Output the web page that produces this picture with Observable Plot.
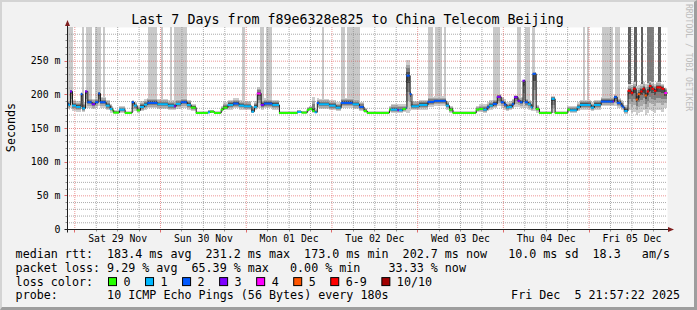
<!DOCTYPE html>
<html><head><meta charset="utf-8">
<script src="https://cdn.jsdelivr.net/npm/d3@7"></script>
<script src="https://cdn.jsdelivr.net/npm/@observablehq/plot@0.6"></script>
<style>
html,body{margin:0;padding:0;background:#f2f2f2;}
#wrap{position:relative;width:697px;height:310px;overflow:hidden;background:#f2f2f2;}
#border{position:absolute;left:0;top:0;width:697px;height:310px;box-sizing:border-box;border-style:solid;border-width:2px 3px 3px 2px;border-color:#d4d4d4 #9e9e9e #9e9e9e #d4d4d4;pointer-events:none;}
svg text{font-family:"DejaVu Sans Mono",monospace;}
</style></head>
<body><div id="wrap"><div id="border"></div></div>
<script>
const title = "Last 7 Days from f89e6328e825 to China Telecom Beijing";
const yLabel = "Seconds";
const watermark = "RRDTOOL / TOBI OETIKER";
const startTime = Date.UTC(2025, 10, 28, 21, 57, 22);
const endTime = Date.UTC(2025, 11, 5, 21, 57, 22);
const hourZero = Date.UTC(2025, 10, 29); // segment hours are counted from here
const dayLabels = ["Sat 29 Nov", "Sun 30 Nov", "Mon 01 Dec", "Tue 02 Dec", "Wed 03 Dec", "Thu 04 Dec", "Fri 05 Dec"];
const yTicks = [0, 50, 100, 150, 200, 250];
const yTickLabels = ["0", "50 m", "100 m", "150 m", "200 m", "250 m"];

// median rtt segments: start hour, median (ms), lost pings (of 10), smoke min / max (ms)
const segHour = [
  -2.04, -1.6, -1.2, -0.64, 0.5, 1.78, 2.25, 3.0, 3.65, 4.86,
  5.8, 6.73, 7.2, 8.78, 9.9, 10.65, 10.9, 12.5, 14.1, 16.06,
  16.72, 17.47, 18.4, 19.5, 20.45, 23.25, 26.2, 27.9, 28.4, 29.8,
  31.5, 32.6, 34.0, 37.4, 38.0, 39.1, 41.0, 41.7, 42.9, 44.5,
  46.0, 47.5, 49.6, 50.3, 51.1, 52.2, 53.1, 55.45, 57.3, 62.45,
  63.6, 65.1, 65.7, 66.65, 67.3, 67.9, 68.5, 71.3, 73.2, 74.6,
  77.9, 79.7, 81.0, 81.9, 88.1, 88.6, 90.5, 90.9, 91.9, 92.8,
  93.0, 93.9, 94.4, 96.5, 98.9, 100.7, 104.0, 104.9, 105.9, 112.4,
  113.3, 114.5, 115.5, 116.1, 117.2, 118.3, 119.4, 120.3, 121.0, 121.7,
  122.5, 123.1, 124.1, 124.8, 125.5, 126.1, 127.0, 127.8, 128.3, 129.2,
  130.1, 133.6, 134.5, 138.06, 138.8, 140.7, 141.6, 144.6, 145.5, 147.4,
  150.8, 151.1, 151.9, 153.0, 153.5, 154.0, 154.9, 155.8, 156.5, 157.2,
  157.8, 158.5, 159.1, 159.7, 160.3, 160.9, 161.6, 162.3, 163.0, 164.4,
  165.2
];
const segMedian = [
  186, 185, 205, 184, 182, 201, 180, 205, 189, 186,
  189, 202, 189, 184, 179, 177, 173.5, 178, 173, 189,
  184, 177, 182, 185.5, 188, 186, 184, 183, 186.5, 189,
  185, 181, 173, 174, 175, 173, 178, 181, 185, 187,
  184, 183, 175, 182, 202, 185, 187, 185, 173, 174.5,
  173.5, 177.5, 179, 176, 174, 188, 186, 184, 181, 188,
  186, 182, 176, 173, 178, 178, 177, 177, 179, 181,
  228.5, 201, 183, 185, 189.5, 191, 184, 178, 173, 178,
  179, 178, 181.5, 184, 186.5, 197, 189, 185.5, 181.5, 182,
  186, 196.5, 191, 189, 221, 189, 186, 181.5, 231.2, 179,
  173, 194, 173, 178, 177, 181.5, 185, 181, 185, 190,
  190, 196.5, 188, 184, 181.5, 176, 206, 203, 209, 193,
  201, 205, 209, 199, 205, 213, 209, 206, 211, 209,
  202.7
];
const segLoss = [
  2, 1, 3, 1, 1, 2, 1, 3, 2, 3,
  2, 2, 2, 1, 1, 0, 0, 1, 0, 2,
  1, 0, 1, 1, 2, 1, 1, 3, 1, 2,
  1, 0, 0, 1, 0, 0, 0, 0, 1, 2,
  1, 1, 1, 1, 4, 3, 2, 1, 0, 1,
  0, 0, 0, 0, 1, 2, 1, 1, 1, 2,
  1, 2, 0, 0, 0, 1, 3, 1, 0, 1,
  2, 2, 1, 1, 2, 2, 1, 0, 0, 0,
  0, 1, 2, 1, 2, 3, 2, 2, 1, 1,
  2, 3, 3, 2, 3, 2, 1, 1, 2, 0,
  0, 1, 0, 0, 1, 1, 1, 1, 1, 2,
  3, 2, 2, 2, 2, 1, 6, 6, 6, 5,
  5, 6, 6, 5, 6, 6, 6, 6, 6, 6,
  4
];
const segLow = [
  178, 177, 180, 175, 174, 178, 174, 180, 180, 178,
  180, 182, 180, 176, 173, 172, 172, 173, 172, 174,
  175, 173, 175, 177, 179, 178, 176, 176, 178, 180,
  177, 175, 172, 172, 172, 172, 174, 176, 177, 179,
  177, 176, 172, 176, 180, 177, 179, 177, 172, 172,
  172, 174, 175, 172, 172, 179, 178, 176, 175, 180,
  178, 175, 172, 172, 174, 172, 172, 172, 174, 174,
  173, 175, 176, 177, 181, 183, 177, 173, 172, 174,
  174, 173, 175, 177, 179, 182, 180, 177, 175, 176,
  178, 181, 181, 180, 180, 179, 177, 175, 175, 173,
  172, 173, 172, 174, 173, 175, 177, 175, 177, 182,
  182, 183, 180, 177, 174, 171, 176, 172, 174, 170,
  172, 174, 176, 170, 172, 176, 175, 173, 176, 174,
  180
];
const segHigh = [
  192, 191, 207, 192, 190, 203, 188, 206, 195, 193,
  195, 204, 196, 192, 186, 182, 176, 182, 175, 191,
  188, 183, 190, 193, 195, 193, 191, 190, 193, 195,
  192, 186, 175, 177, 177, 175, 183, 188, 192, 194,
  191, 190, 183, 190, 211, 192, 194, 192, 175, 177,
  175, 181, 183, 196, 178, 194, 193, 191, 188, 195,
  193, 189, 180, 175, 182, 186, 185, 185, 185, 188,
  251, 205, 190, 192, 196, 197, 190, 183, 175, 182,
  185, 185, 188, 191, 194, 200, 196, 193, 188, 190,
  193, 199, 197, 196, 222, 195, 192, 188, 233, 184,
  175, 197, 175, 182, 183, 188, 192, 188, 192, 196,
  196, 200, 195, 191, 189, 184, 215, 214, 218, 212,
  214, 216, 218, 215, 217, 220, 218, 216, 219, 216,
  210
];

// lost-ping columns reaching the top of the graph (hours)
const barFrom = [-2.04, 2.1, 3.3, 5.8, 7.9, 20.6, 24.2, 26.8, 27.9, 47.0, 52.0, 53.6, 69.3, 74.7, 76.4,
  98.9, 100.9, 103.5, 117.2, 123.9, 126.2, 128.1, 142.5, 143.5, 147.7, 151.3,
  155.05, 156.7, 158.6, 160.3, 163.5];
const barTo = [-0.3, 2.7, 5.0, 7.4, 8.5, 23.1, 24.9, 27.4, 31.5, 47.8, 53.1, 55.4, 69.9, 75.8, 80.0,
  100.5, 103.0, 104.1, 119.2, 125.1, 127.6, 128.9, 143.1, 144.1, 150.9, 152.8,
  155.8, 157.5, 159.3, 162.3, 164.2];
const barShade = ["light","light","light","light","light","light","light","light","light","light","light","light","light","light","light",
  "light","light","light","light","light","light","light","light","light","light","light",
  "dark","dark","dark","mid","dark"];

const lossLabels = ["0", "1", "2", "3", "4", "5", "6-9", "10/10"];
const lossColors = ["#26ff00", "#00b8ff", "#0059ff", "#7e00ff", "#ff00ff", "#ff5500", "#ff0000", "#a10000"];

const statLines = [
  "median rtt:  183.4 ms avg  231.2 ms max  173.0 ms min  202.7 ms now   10.0 ms sd  18.3   am/s",
  "packet loss: 9.29 % avg  65.39 % max   0.00 % min    33.33 % now"
];
const lossColorLabel = "loss color:";
const probeLabel = "probe:";
const probeText = "10 ICMP Echo Pings (56 Bytes) every 180s";
const stampText = "Fri Dec  5 21:57:22 2025";

// ---------- build ----------
const H = h => new Date(Math.max(startTime, hourZero + h * 3600e3));
const lossColor = l => lossColors[l >= 10 ? 7 : l >= 6 ? 6 : l];
const segs = segHour.map((h, i) => ({
  x1: H(h),
  x2: i + 1 < segHour.length ? H(segHour[i + 1]) : new Date(endTime),
  med: segMedian[i], loss: segLoss[i], lo: segLow[i], hi: segHigh[i]
}));
const linePts = segs.map(s => ({t: s.x1, v: s.med})).concat([{t: new Date(endTime), v: segs[segs.length - 1].med}]);
const shadeFill = {light: "#c9c9c9", dark: "#5e5e5e", mid: "#7c7c7c"};
const shadeBase = {light: 190, dark: 180, mid: 182};
const bars = barFrom.map((f, i) => ({x1: H(f), x2: H(barTo[i]), shade: barShade[i]}));

const smokeLayers = [[1, "#cdcdcd"], [0.7, "#a9a9a9"], [0.45, "#7f7f7f"], [0.2, "#4e4e4e"]];

const start = new Date(startTime), end = new Date(endTime);
const midnights = d3.utcDay.range(start, end);
const sixH = d3.utcHour.every(6).range(start, end).filter(d => d.getUTCHours() !== 0);
const dayNoons = midnights.map(d => d3.utcHour.offset(d, 12));
const minorY = d3.range(10, 300, 10).filter(v => v % 50 !== 0);
const majorY = yTicks.filter(v => v > 0);
const gridMinor = {stroke: "#8f8f8f", strokeOpacity: 0.75, strokeDasharray: "1,1"};
const gridMajor = {stroke: "#de4f4f", strokeOpacity: 0.6, strokeDasharray: "1,1"};

const marks = [
  Plot.frame({fill: "white", stroke: "none"}),
  Plot.rect(bars, {x1: "x1", x2: "x2", y1: d => shadeBase[d.shade], y2: 300, fill: d => shadeFill[d.shade], shapeRendering: "crispEdges"})
];
for (const [f, c] of smokeLayers) {
  marks.push(Plot.rect(segs, {
    x1: "x1", x2: "x2",
    y1: d => d.med - (d.med - d.lo) * f,
    y2: d => d.med + (d.hi - d.med) * f,
    fill: c, shapeRendering: "crispEdges"
  }));
}
marks.push(
  Plot.ruleY(minorY, gridMinor),
  Plot.ruleY(majorY, gridMajor),
  Plot.ruleX(sixH, gridMinor),
  Plot.ruleX(midnights, gridMajor),
  Plot.line(linePts, {x: "t", y: "v", curve: "step-after", stroke: "#202020", strokeWidth: 1}),
  Plot.ruleY(segs, {y: "med", x1: "x1", x2: "x2", stroke: d => lossColor(d.loss), strokeWidth: 2}),
  Plot.axisX({ticks: dayNoons, tickFormat: d => dayLabels[dayNoons.findIndex(n => +n === +d)], tickSize: 0, tickPadding: 5.5, fontSize: 9.8, fill: "#000"}),
  Plot.axisY({ticks: yTicks, tickFormat: d => yTickLabels[yTicks.indexOf(d)], tickSize: 0, tickPadding: 7, fontSize: 9.9, fill: "#000", label: null})
);

const chart = Plot.plot({
  width: 697, height: 310,
  marginLeft: 67, marginRight: 30, marginTop: 27, marginBottom: 81,
  x: {type: "utc", domain: [start, end], range: [67, 667], label: null},
  y: {domain: [0, 300], range: [229, 27], label: null},
  color: {type: "identity"},
  style: {background: "transparent", fontFamily: "DejaVu Sans Mono", color: "#000", overflow: "visible"},
  marks
});
chart.style.position = "absolute";
chart.style.left = "0px";
chart.style.top = "0px";
document.getElementById("wrap").insertBefore(chart, document.getElementById("border"));

// ---------- decorations drawn from the plot's scales ----------
const xS = chart.scale("x"), yS = chart.scale("y");
const svg = d3.select(chart);
const g = svg.append("g");
const ax = Math.round(xS.apply(start)) + 0.5;
const ay = Math.round(yS.apply(0)) + 0.5;
const axR = Math.round(xS.apply(end));
const axT = Math.round(yS.apply(300));

// tick marks outside the axes
minorY.forEach(v => g.append("line").attr("x1", ax - 2).attr("x2", ax).attr("y1", Math.round(yS.apply(v)) + 0.5).attr("y2", Math.round(yS.apply(v)) + 0.5).attr("stroke", "#8f8f8f"));
majorY.forEach(v => g.append("line").attr("x1", ax - 3).attr("x2", ax).attr("y1", Math.round(yS.apply(v)) + 0.5).attr("y2", Math.round(yS.apply(v)) + 0.5).attr("stroke", "#e06a6a"));
sixH.forEach(d => g.append("line").attr("x1", Math.round(xS.apply(d)) + 0.5).attr("x2", Math.round(xS.apply(d)) + 0.5).attr("y1", ay).attr("y2", ay + 2).attr("stroke", "#8f8f8f"));
midnights.forEach(d => g.append("line").attr("x1", Math.round(xS.apply(d)) + 0.5).attr("x2", Math.round(xS.apply(d)) + 0.5).attr("y1", ay).attr("y2", ay + 3).attr("stroke", "#e06a6a"));

// axes and arrows
g.append("line").attr("x1", ax - 3).attr("x2", axR + 1).attr("y1", ay).attr("y2", ay).attr("stroke", "#1f1f1f");
g.append("line").attr("x1", ax).attr("x2", ax).attr("y1", ay + 3).attr("y2", axT - 1).attr("stroke", "#1f1f1f");
g.append("path").attr("d", `M${ax - 2.5},${axT - 1}L${ax + 2.5},${axT - 1}L${ax},${axT - 7}Z`).attr("fill", "#801f1f");
g.append("path").attr("d", `M${axR + 1},${ay - 2.5}L${axR + 1},${ay + 2.5}L${axR + 7},${ay}Z`).attr("fill", "#801f1f");

// title, axis label, watermark
g.append("text").attr("x", 347.5).attr("y", 24).attr("text-anchor", "middle").attr("font-size", 13.3).attr("fill", "#000").text(title);
g.append("text").attr("transform", "translate(15,127.5) rotate(-90)").attr("text-anchor", "middle").attr("font-size", 11.7).attr("fill", "#000").text(yLabel);
g.append("text").attr("transform", "translate(685.5,4) rotate(90)").attr("text-anchor", "start").attr("font-size", 8.1).attr("fill", "#bdbdbd").text(watermark);

// legend block
const lx = 15.6, cw = 7.04, rows = [258, 271.8, 285.6, 299.4];
const T = (x, y, s, anchor) => g.append("text").attr("x", x).attr("y", y).attr("font-size", 11.7).attr("fill", "#000")
  .attr("text-anchor", anchor || "start").attr("xml:space", "preserve").style("white-space", "pre").text(s);
T(lx, rows[0], statLines[0]);
T(lx, rows[1], statLines[1]);
T(lx, rows[2], lossColorLabel);
let bx = 108;
lossLabels.forEach((lab, i) => {
  g.append("rect").attr("x", bx + 0.5).attr("y", rows[2] - 8).attr("width", 8).attr("height", 8)
    .attr("fill", lossColors[i]).attr("stroke", "#000").attr("stroke-width", 1);
  T(bx + 15.5, rows[2], lab);
  bx += 15.5 + lab.length * cw + 14.5;
});
T(lx, rows[3], probeLabel);
T(lx + 13 * cw, rows[3], probeText);
T(680, rows[3], stampText, "end");
</script>
</body></html>
